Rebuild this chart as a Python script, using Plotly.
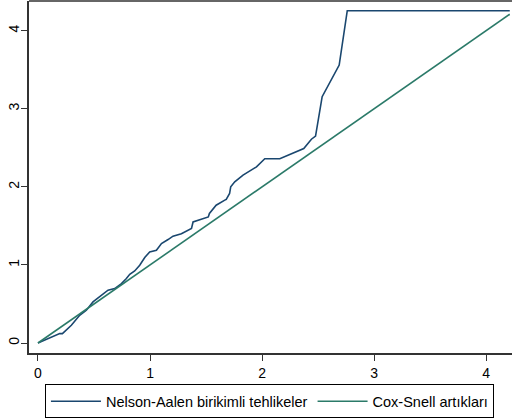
import plotly.graph_objects as go

# Nelson-Aalen cumulative hazard
na_x = [0.0, 0.089, 0.194, 0.218, 0.298, 0.372, 0.432, 0.491, 0.551, 0.625, 0.685,
        0.745, 0.789, 0.819, 0.863, 0.908, 0.953, 0.997, 1.057, 1.102, 1.161, 1.205,
        1.28, 1.37, 1.384, 1.444, 1.52, 1.53, 1.59, 1.667, 1.68, 1.71, 1.72, 1.756,
        1.83, 1.95, 2.024, 2.158, 2.372, 2.44, 2.477, 2.536, 2.688, 2.76, 4.21]
na_y = [0.0, 0.056, 0.12, 0.12, 0.227, 0.355, 0.419, 0.526, 0.59, 0.676, 0.697,
        0.76, 0.826, 0.88, 0.923, 0.996, 1.095, 1.167, 1.188, 1.274, 1.325, 1.368,
        1.4, 1.466, 1.55, 1.58, 1.615, 1.66, 1.765, 1.83, 1.84, 1.915, 2.0, 2.064,
        2.15, 2.256, 2.36, 2.36, 2.49, 2.61, 2.65, 3.154, 3.56, 4.256, 4.256]

# Cox-Snell residuals (reference line)
cs_x = [0.0, 4.21]
cs_y = [0.0, 4.21]

tick_vals = [0, 1, 2, 3, 4]
tick_text = ["0", "1", "2", "3", "4"]

fig = go.Figure()
fig.add_trace(go.Scatter(x=na_x, y=na_y, mode="lines",
                         name="Nelson-Aalen birikimli tehlikeler",
                         line=dict(color="#1a476f", width=1.6)))
fig.add_trace(go.Scatter(x=cs_x, y=cs_y, mode="lines",
                         name="Cox-Snell artıkları",
                         line=dict(color="#2b7a69", width=1.6)))

font = dict(family="Liberation Sans, Arial, sans-serif", size=14, color="#000")
lfont = dict(family="Liberation Sans, Arial, sans-serif", size=14.5, color="#000")

fig.update_layout(
    width=516, height=420,
    margin=dict(l=29, r=4, t=1, b=67),
    paper_bgcolor="white", plot_bgcolor="white",
    font=font,
    showlegend=True,
    legend=dict(orientation="h", x=0.033, xanchor="left", y=-0.089, yanchor="top",
                bordercolor="#000", borderwidth=1, bgcolor="white",
                font=lfont, itemwidth=50, tracegroupgap=0),
    xaxis=dict(range=[-0.080, 4.23], tickvals=tick_vals, ticktext=tick_text,
               showgrid=False, zeroline=False, showline=True, linecolor="#333",
               linewidth=1.5, ticks="outside", ticklen=6, tickcolor="#333",
               tickwidth=1),
    yaxis=dict(range=[-0.128, 4.38], tickvals=tick_vals, ticktext=tick_text,
               showgrid=False, zeroline=False, showline=True, linecolor="#333",
               linewidth=1.5, ticks="outside", ticklen=6, tickcolor="#333",
               tickwidth=1, tickangle=-90, ticklabelstandoff=-3),
    shapes=[dict(type="line", xref="paper", yref="paper", x0=0, x1=1, y0=1, y1=1,
                 line=dict(color="#666", width=2))],
)

fig.write_html("out.html")
